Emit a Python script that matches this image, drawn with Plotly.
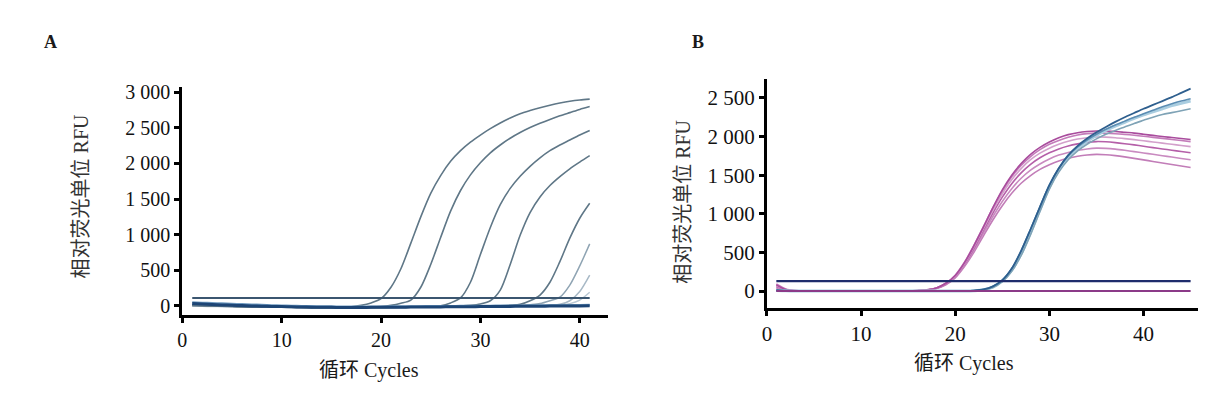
import plotly.graph_objects as go

# ---------------- Panel A data ----------------
cycles_a = list(range(1, 42))
a_curve1 = [10, 5, 0, -5, -8, -10, -12, -14, -16, -18, -20, -22, -23, -24, -24, -22, -15,
            5, 40, 100, 260, 520, 880, 1250, 1580, 1830, 2030, 2180, 2300, 2400, 2490, 2570,
            2640, 2700, 2745, 2785, 2820, 2850, 2875, 2893, 2905]
a_curve2 = [15, 8, 3, -2, -6, -9, -12, -14, -16, -18, -20, -22, -24, -25, -26, -26, -25, -23,
            -20, -12, 5, 35,
            80, 260, 580, 960, 1330, 1620, 1840, 2010, 2150, 2260, 2355, 2435, 2505, 2565,
            2620, 2670, 2715, 2760, 2800]
a_curve3 = [12, 6, 2, -3, -7, -10, -13, -15, -17, -19, -21, -23, -25, -26, -27, -27, -27, -26,
            -25, -24, -22, -20, -17, -13, -8, 0,
            40, 110, 330, 720, 1100, 1420, 1650, 1820, 1960, 2080, 2180, 2260, 2330, 2400, 2465]
a_curve4 = [8, 4, 0, -4, -8, -11, -14, -16, -18, -20, -22, -24, -25, -26, -27, -27, -27, -26,
            -25, -24, -23, -22, -20, -18, -16, -13, -10, -5, 5, 25,
            70, 220, 580, 990, 1310, 1530, 1690, 1815, 1925, 2020, 2110]
a_curve5 = [5, 2, -2, -6, -9, -12, -15, -17, -19, -21, -23, -25, -26, -27, -28, -28, -28, -27,
            -26, -25, -24, -23, -22, -20, -18, -16, -14, -12, -10, -8, -5, 0, 8,
            20, 70, 150, 330, 620, 950, 1230, 1440]
a_curve6 = [0, -2, -5, -8, -10, -12, -14, -16, -18, -20, -21, -22, -23, -24, -24, -24, -24,
            -23, -22, -21, -20, -19, -18, -17, -16, -15, -14, -12, -10, -8, -6, -4, -2, 5, 15,
            30, 70, 120, 290, 560, 870]
a_curve7 = [0, -3, -6, -9, -12, -14, -16, -18, -20, -21, -22, -23, -24, -25, -25, -25, -25,
            -24, -23, -22, -21, -20, -19, -18, -17, -16, -15, -14, -13, -12, -11, -10, -8, -6,
            -4, 0, 8, 20, 70, 200, 430]
a_curve8 = [-5, -8, -10, -12, -14, -16, -18, -20, -21, -22, -23, -24, -25, -26, -26, -26, -26,
            -25, -24, -23, -22, -21, -20, -19, -18, -17, -16, -15, -14, -13, -12, -11, -10, -8,
            -6, -4, 0, 10, 30, 80, 190]
a_base1 = [30, 25, 18, 12, 6, 2, -2, -6, -9, -12, -15, -18, -20, -22, -23, -24, -24, -24, -23,
           -22, -21, -20, -19, -18, -17, -16, -15, -14, -13, -12, -11, -10, -9, -8, -7, -6, -5,
           -4, -3, -2, -1]
a_base2 = [45, 40, 35, 30, 25, 20, 15, 10, 5, 0, -3, -6, -8, -10, -12, -13, -14, -14, -14, -13,
           -12, -11, -10, -9, -8, -7, -6, -5, -4, -3, -2, -1, 0, 1, 2, 3, 4, 5, 6, 8, 10]
a_threshold = 110
a_yticks = [0, 500, 1000, 1500, 2000, 2500, 3000]
a_yticktext = ["0", "500", "1 000", "1 500", "2 000", "2 500", "3 000"]

# ---------------- Panel B data ----------------
cycles_b = list(range(1, 46))
zeros15 = [0] * 12
b_pink1 = [80, 20, 5] + zeros15 + [5, 15, 40, 100, 200, 370, 590, 830, 1080, 1310, 1500, 1650,
                                   1770, 1860, 1930, 1985, 2025, 2050, 2065, 2072, 2070, 2065,
                                   2055, 2045, 2030, 2015, 2000, 1988, 1975, 1963]
b_pink2 = [90, 25, 5] + zeros15 + [5, 15, 40, 100, 205, 375, 595, 835, 1075, 1295, 1480, 1625,
                                   1740, 1830, 1900, 1950, 1990, 2020, 2038, 2045, 2043, 2037,
                                   2028, 2017, 2005, 1990, 1977, 1963, 1950, 1935]
b_pink3 = [70, 18, 4] + zeros15 + [5, 14, 38, 95, 195, 360, 575, 810, 1045, 1260, 1440, 1585,
                                   1700, 1785, 1850, 1900, 1940, 1968, 1985, 1995, 1993, 1985,
                                   1973, 1960, 1945, 1930, 1915, 1900, 1885, 1870]
b_pink4 = [60, 15, 3] + zeros15 + [4, 13, 36, 90, 190, 350, 555, 785, 1010, 1215, 1390, 1530,
                                   1640, 1725, 1790, 1840, 1878, 1905, 1925, 1935, 1932, 1922,
                                   1908, 1892, 1875, 1857, 1840, 1823, 1806, 1790]
b_pink5 = [50, 12, 3] + zeros15 + [4, 12, 34, 85, 180, 335, 530, 750, 965, 1160, 1325, 1460,
                                   1565, 1645, 1710, 1760, 1795, 1822, 1840, 1850, 1847, 1837,
                                   1822, 1805, 1788, 1770, 1752, 1735, 1717, 1700]
b_pink6 = [40, 10, 2] + zeros15 + [4, 12, 32, 80, 170, 320, 505, 715, 920, 1105, 1265, 1395,
                                   1495, 1575, 1635, 1685, 1720, 1745, 1762, 1770, 1765, 1753,
                                   1737, 1718, 1698, 1678, 1658, 1638, 1619, 1600]
zeros18 = [0] * 18
b_blue1 = [10, 3, 0] + zeros18 + [5, 20, 60, 140, 290, 520, 800, 1090, 1370, 1590, 1760, 1880,
                                  1975, 2055, 2125, 2190, 2250, 2305, 2360, 2410, 2460, 2510,
                                  2565, 2620]
b_blue2 = [8, 2, 0] + zeros18 + [5, 20, 60, 140, 290, 520, 800, 1090, 1370, 1590, 1750, 1865,
                                 1955, 2030, 2095, 2150, 2200, 2250, 2295, 2340, 2385, 2425,
                                 2460, 2490]
b_blue3 = [6, 2, 0] + zeros18 + [4, 15, 50, 130, 270, 480, 760, 1060, 1350, 1570, 1735, 1850,
                                 1940, 2015, 2080, 2135, 2185, 2235, 2280, 2320, 2360, 2400,
                                 2430, 2460]
b_blue4 = [5, 1, 0] + zeros18 + [4, 14, 45, 120, 255, 460, 730, 1030, 1320, 1540, 1700, 1815,
                                 1900, 1970, 2030, 2080, 2125, 2170, 2210, 2250, 2285, 2310,
                                 2335, 2360]
b_threshold = 127
b_zero_line = 0
b_yticks = [0, 500, 1000, 1500, 2000, 2500]
b_yticktext = ["0", "500", "1 000", "1 500", "2 000", "2 500"]

x_ticks = [0, 10, 20, 30, 40]

FONT = "Liberation Serif, 'Noto Sans CJK SC', serif"
W, H = 1227, 395
OX, OY = 8, 8  # page body margin offset

fig = go.Figure()


def add(x, y, color, width, xa, ya, opacity=1.0):
    fig.add_trace(go.Scatter(x=x, y=y, mode="lines", xaxis=xa, yaxis=ya,
                             line=dict(color=color, width=width, shape="spline", smoothing=0.8),
                             opacity=opacity, hoverinfo="skip", showlegend=False))


# Panel A
add(cycles_a, a_curve8, "#b9c8d4", 1.5, "x", "y")
add(cycles_a, a_curve7, "#a8b9c6", 1.5, "x", "y")
add(cycles_a, a_curve6, "#8fa4b3", 1.5, "x", "y")
for c in [a_curve5, a_curve4, a_curve3, a_curve2, a_curve1]:
    add(cycles_a, c, "#5f7787", 1.6, "x", "y")
add(cycles_a, a_base2, "#6f9ac0", 2.5, "x", "y")
add(cycles_a, a_base1, "#1d4575", 3, "x", "y")
add(cycles_a, [a_threshold] * len(cycles_a), "#3b5670", 2, "x", "y")

# Panel B
for c, col in [(b_pink6, "#c27db8"), (b_pink5, "#c98ac0"), (b_pink4, "#b55fa8"),
               (b_pink3, "#d3a0cb"), (b_pink2, "#c47cba"), (b_pink1, "#a94c9d")]:
    add(cycles_b, c, col, 1.6, "x2", "y2")
add(cycles_b, b_blue3, "#a9cde0", 3, "x2", "y2")
add(cycles_b, b_blue4, "#7fa3b6", 1.6, "x2", "y2")
add(cycles_b, b_blue2, "#5b8db3", 1.6, "x2", "y2")
add(cycles_b, b_blue1, "#2e5f8e", 1.8, "x2", "y2")
add(cycles_b, [b_zero_line] * len(cycles_b), "#8b3a88", 2, "x2", "y2")
add(cycles_b, [b_threshold] * len(cycles_b), "#1f2c6c", 2.2, "x2", "y2")


def axis_common(size):
    return dict(showline=True, linewidth=3, linecolor="black", showgrid=False,
                zeroline=False, ticks="outside", ticklen=5, tickwidth=3,
                tickcolor="black", tickfont=dict(family=FONT, size=size, color="#111111"),
                fixedrange=True)


def dx(a, b):
    return [(a - OX) / W, (b - OX) / W]


def dy(top, bottom):
    return [(H - (bottom - OY)) / H, (H - (top - OY)) / H]


fig.update_layout(
    width=W, height=H,
    margin=dict(l=0, r=0, t=0, b=0),
    paper_bgcolor="white", plot_bgcolor="white",
    xaxis=dict(domain=dx(178, 605), range=[0, 42.8], tickvals=x_ticks,
               anchor="y", **axis_common(20)),
    yaxis=dict(domain=dy(83, 315), range=[-124, 3080],
               tickvals=a_yticks, ticktext=a_yticktext, anchor="x", **axis_common(20)),
    xaxis2=dict(domain=dx(765, 1198), range=[0, 45.8], tickvals=x_ticks,
                anchor="y2", **axis_common(21)),
    yaxis2=dict(domain=dy(75, 308), range=[-216, 2748],
                tickvals=b_yticks, ticktext=b_yticktext, anchor="x2", **axis_common(21)),
)


def ann(text, px, py, size, angle=0, color="#1a1a1a"):
    fig.add_annotation(text=text, x=(px - OX) / W, y=1 - (py - OY) / H, xref="paper",
                       yref="paper", showarrow=False, xanchor="center", yanchor="middle",
                       textangle=angle, font=dict(family=FONT, size=size, color=color))


ann("<b>A</b>", 46, 38, 18)
ann("<b>B</b>", 696, 38, 18)
ann("循环 Cycles", 365, 372, 20)
ann("循环 Cycles", 963, 365, 20)
ann("相对荧光单位 RFU", 76, 195, 20, -90, "#333333")
ann("相对荧光单位 RFU", 680, 200, 20, -90, "#333333")

fig.write_html("out.html")
